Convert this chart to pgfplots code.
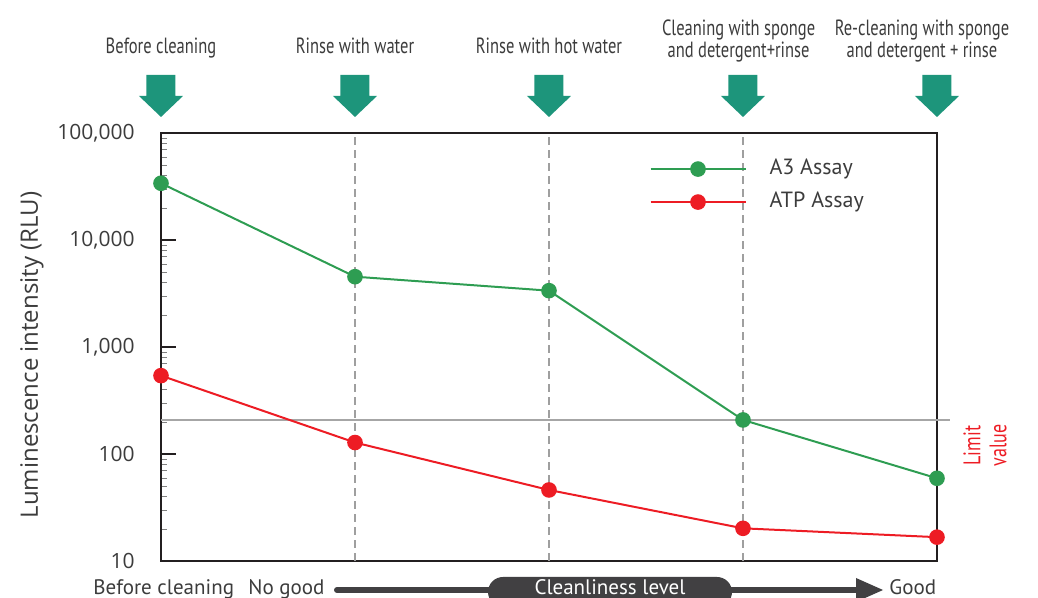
\documentclass[border=0pt]{standalone}
\usepackage{fontspec}
\setmainfont{PT Sans}
\newfontfamily\cond[FakeStretch=0.75]{PT Sans}
\newfontfamily\osans{Open Sans}
\usepackage{pgfplots}
\pgfplotsset{compat=1.18}
\definecolor{grn}{HTML}{2E9D52}
\definecolor{rd}{HTML}{ED1C24}
\definecolor{arr}{HTML}{1D957B}
\definecolor{txt}{HTML}{3C3C3C}
\definecolor{frm}{HTML}{231F20}
\definecolor{dk}{HTML}{414042}
\begin{document}
\begin{tikzpicture}
\useasboundingbox (-80.5pt,-18.5pt) rectangle (438.5pt,280.5pt);
\begin{axis}[
  scale only axis, width=388pt, height=214pt,
  xmin=0, xmax=4, ymode=log, ymin=10, ymax=100000,
  xtick=\empty,
  ytick={10,100,1000,10000,100000},
  yticklabels={10,100,{1,000},{10,000},{100,000}},
  ytick pos=left, ytick align=inside,
  major tick length=7.5pt,
  major tick style={draw=frm, line width=1pt},
  axis line style={frm, line width=1pt},
  yticklabel style={font=\osans\fontsize{10.5}{12}\selectfont, text=txt, inner sep=0pt, xshift=-13pt},
  clip=false,
  legend cell align=left,
  legend image code/.code={\draw[mark repeat=2,mark phase=2,#1] plot coordinates {(0pt,0pt) (23.75pt,0pt) (47.5pt,0pt)};},
  legend style={draw=none, fill=none, at={(0.629,0.94)}, anchor=north west,
    inner sep=0pt, row sep=6.5pt, column sep=11.5pt,
    nodes={inner sep=0pt, text height=7.5pt, text depth=2.5pt, font=\fontsize{11}{12}\selectfont, text=txt}},
]
% dashed guides
\draw[gray!75, line width=0.6pt, dash pattern=on 4pt off 2.5pt] (axis cs:1,10) -- (axis cs:1,100000);
\draw[gray!75, line width=0.6pt, dash pattern=on 4pt off 2.5pt] (axis cs:2,10) -- (axis cs:2,100000);
\draw[gray!75, line width=0.6pt, dash pattern=on 4pt off 2.5pt] (axis cs:3,10) -- (axis cs:3,100000);
% limit line
\draw[black!35, line width=0.6pt] (axis cs:0,208) -- ([xshift=6.5pt]axis cs:4,208);

\addplot[grn, line width=1pt, mark=*, mark size=3.4pt, mark options={fill=grn, draw=none}]
  coordinates {(0,33900) (1,4540) (2,3360) (3,208) (4,59.3)};
\addlegendentry{A3 Assay}
\addplot[rd, line width=1pt, mark=*, mark size=3.4pt, mark options={fill=rd, draw=none}]
  coordinates {(0,540) (1,128) (2,46.1) (3,20.2) (4,16.7)};
\addlegendentry{ATP Assay}

% top arrows
\fill[arr] ([yshift=8pt]axis cs:0,100000) -- ++(-11pt,10.5pt) -- ++(3.75pt,0pt) -- ++(0pt,10.5pt) -- ++(14.5pt,0pt) -- ++(0pt,-10.5pt) -- ++(3.75pt,0pt) -- cycle;
\fill[arr] ([yshift=8pt]axis cs:1,100000) -- ++(-11pt,10.5pt) -- ++(3.75pt,0pt) -- ++(0pt,10.5pt) -- ++(14.5pt,0pt) -- ++(0pt,-10.5pt) -- ++(3.75pt,0pt) -- cycle;
\fill[arr] ([yshift=8pt]axis cs:2,100000) -- ++(-11pt,10.5pt) -- ++(3.75pt,0pt) -- ++(0pt,10.5pt) -- ++(14.5pt,0pt) -- ++(0pt,-10.5pt) -- ++(3.75pt,0pt) -- cycle;
\fill[arr] ([yshift=8pt]axis cs:3,100000) -- ++(-11pt,10.5pt) -- ++(3.75pt,0pt) -- ++(0pt,10.5pt) -- ++(14.5pt,0pt) -- ++(0pt,-10.5pt) -- ++(3.75pt,0pt) -- cycle;
\fill[arr] ([yshift=8pt]axis cs:4,100000) -- ++(-11pt,10.5pt) -- ++(3.75pt,0pt) -- ++(0pt,10.5pt) -- ++(14.5pt,0pt) -- ++(0pt,-10.5pt) -- ++(3.75pt,0pt) -- cycle;

% top labels
\tikzset{toplab/.style={anchor=base, inner sep=0pt, text=txt, font=\cond\fontsize{11}{12}\selectfont}}
\node[toplab] at ([yshift=39.5pt]axis cs:0,100000) {Before cleaning};
\node[toplab] at ([yshift=39.5pt]axis cs:1,100000) {Rinse with water};
\node[toplab] at ([yshift=39.5pt]axis cs:2,100000) {Rinse with hot water};
\node[toplab] at ([yshift=48.5pt,xshift=-2.2pt]axis cs:3,100000) {Cleaning with sponge};
\node[toplab] at ([yshift=37.5pt,xshift=-2.2pt]axis cs:3,100000) {and detergent+rinse};
\node[toplab] at ([yshift=48.5pt,xshift=-7.5pt]axis cs:4,100000) {Re-cleaning with sponge};
\node[toplab] at ([yshift=37.5pt,xshift=-7.5pt]axis cs:4,100000) {and detergent + rinse};

% limit value
\node[rotate=90, align=center, text=rd, inner sep=0pt, font=\cond\fontsize{12}{13}\selectfont]
  at ([xshift=24pt]axis cs:4,120) {Limit\\value};
\end{axis}

% left tick marks (inside)
\draw[frm, line width=1.2pt] (0pt,53.5pt) -- (7.5pt,53.5pt);
\draw[frm, line width=1.2pt] (0pt,107pt) -- (7.5pt,107pt);
\draw[frm, line width=1.2pt] (0pt,160.5pt) -- (7.5pt,160.5pt);

% y label
\node[rotate=90, text=txt, font=\osans\fontsize{12}{14}\selectfont] at (-64.5pt,103pt) {Luminescence intensity (RLU)};

% bottom cleanliness scale
\tikzset{bot/.style={anchor=base west, inner sep=0pt, text=txt, font=\fontsize{10.5}{12}\selectfont}}
\node[bot] at (-34pt,-17pt) {Before cleaning};
\node[bot] at (43.5pt,-17pt) {No good};
\node[bot] at (364pt,-17pt) {Good};
\draw[dk, line width=3pt, line cap=round] (88pt,-14.5pt) -- (348pt,-14.5pt);
\fill[dk] (347.5pt,-8.5pt) -- (361pt,-14.5pt) -- (347.5pt,-20.5pt) -- cycle;
\fill[dk, rounded corners=7.5pt] (163.5pt,-8pt) rectangle (285.5pt,-23pt);
\node[anchor=base, inner sep=0pt, text=white, font=\fontsize{10.5}{12}\selectfont] at (224.5pt,-17pt) {Cleanliness level};
\end{tikzpicture}
\end{document}
